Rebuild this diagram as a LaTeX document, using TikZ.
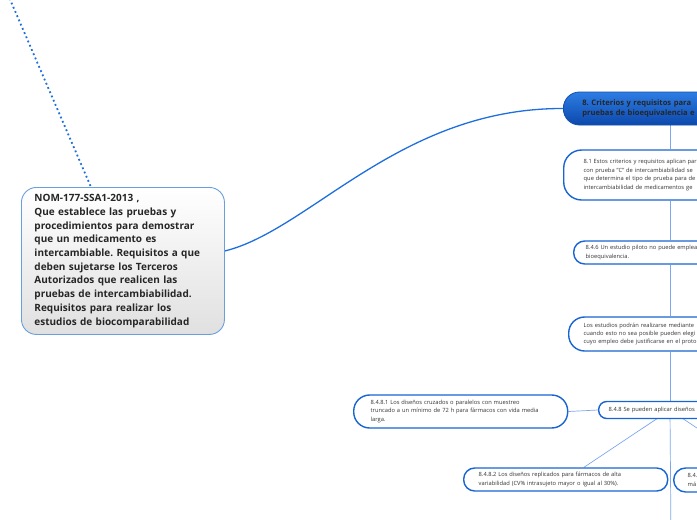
\documentclass[tikz,border=0pt]{standalone}
\usepackage{fontspec}
\setmainfont{Open Sans}
\usetikzlibrary{backgrounds}
\definecolor{azul}{RGB}{24,100,210}
\definecolor{azulclaro}{RGB}{125,168,235}
\definecolor{azullinea}{RGB}{30,110,222}
\definecolor{bordegris}{RGB}{105,160,220}
\definecolor{grisfondo}{RGB}{224,224,224}
\definecolor{raizarriba}{RGB}{45,125,228}
\definecolor{raizabajo}{RGB}{12,72,172}
\frenchspacing
\begin{document}
\begin{tikzpicture}[x=1pt,y=-1pt,
    principal/.style={draw=bordegris,line width=0.9pt,rounded corners=15pt,
      top color=white,bottom color=grisfondo,anchor=north west,
      minimum width=203pt,minimum height=147pt,inner xsep=13pt,text width=177pt,
      align=left,font=\fontsize{10}{13.7}\selectfont\bfseries,text=black!85},
    raiz/.style={draw=azul!80!black,line width=0.8pt,rounded corners=16pt,
      top color=raizarriba,bottom color=raizabajo,anchor=west,
      minimum height=33pt,inner xsep=19pt,text width=200pt,align=left,
      font=\fontsize{7.6}{10}\selectfont\bfseries,text=black!85},
    caja/.style={draw=azul,line width=1.4pt,fill=white,anchor=west,
      inner xsep=15pt,align=left,font=\fontsize{5.75}{8.4}\selectfont,text=black!80},
    rama/.style={draw=azulclaro,line width=0.7pt}]
    \useasboundingbox (0,0) rectangle (697,520);
    \clip (0,0) rectangle (697,520);
    % Tema central
    \node[principal] (nom) at (21,187) {NOM-177-SSA1-2013 ,\\
      Que establece las pruebas y\\
      procedimientos para demostrar\\
      que un medicamento es\\
      intercambiable. Requisitos a que\\
      deben sujetarse los Terceros\\
      Autorizados que realicen las\\
      pruebas de intercambiabilidad.\\
      Requisitos para realizar los\\
      estudios de biocomparabilidad};
    % Rama principal y sus subtemas
    \node[raiz] (criterios) at (563,108.5) {8. Criterios y requisitos para\\
      pruebas de bioequivalencia e};
    \node[caja,rounded corners=18pt,minimum height=50pt,text width=220pt,inner xsep=20pt] (c81) at (563,175)
      {8.1 Estos criterios y requisitos aplican par\\
       con prueba "C" de intercambiabilidad se\\
       que determina el tipo de prueba para de\\
       intercambiabilidad de medicamentos ge};
    \node[caja,rounded corners=11pt,minimum height=23pt,text width=200pt,inner xsep=12pt] (c846) at (573,252.5)
      {8.4.6 Un estudio piloto no puede emplear\\
       bioequivalencia.};
    \node[caja,rounded corners=16pt,minimum height=34pt,text width=200pt] (cestudios) at (568,334)
      {Los estudios podr\'an realizarse mediante\\
       cuando esto no sea posible pueden elegi\\
       cuyo empleo debe justificarse en el proto};
    \node[caja,rounded corners=8pt,minimum height=17pt,text width=200pt,inner xsep=10pt] (c848) at (598,410)
      {8.4.8 Se pueden aplicar dise\~nos};
    \node[caja,rounded corners=16pt,minimum height=33pt,text width=180pt,inner xsep=17pt] (c8481) at (353,411.5)
      {8.4.8.1 Los dise\~nos cruzados o paralelos con muestreo\\
       truncado a un m\'inimo de 72 h para f\'armacos con vida media\\
       larga.};
    \node[caja,rounded corners=11pt,minimum height=23pt,text width=174pt] (c8482) at (463,479.5)
      {8.4.8.2 Los dise\~nos replicados para f\'armacos de alta\\
       variabilidad (CV\% intrasujeto mayor o igual al 30\%).};
    \node[caja,rounded corners=12pt,minimum height=24pt,text width=174pt,inner xsep=14pt] (c8483) at (673,480)
      {8.4.\\m\'a};
    % Puntos auxiliares
    \coordinate (eje) at (670,0);
    \coordinate (arriba) at (6,-10);
    \coordinate (abajo) at (671,540);
    \begin{pgfonlayer}{background}
      \draw[azullinea,line width=1.8pt,dash pattern=on 1.8pt off 2.8pt] (arriba) -- ([xshift=-32pt]nom.north);
      \draw[azullinea,line width=1.3pt] ([yshift=10pt]nom.east) .. controls (310,230) and (400,108) .. (criterios.west);
      \draw[rama] (criterios.south -| eje) -- (c81.north -| eje);
      \draw[rama] (c81.south -| eje) -- (c846.north -| eje);
      \draw[rama] (c846.south -| eje) -- (cestudios.north -| eje);
      \draw[rama] (cestudios.south -| eje) -- (c848.north -| eje);
      \draw[rama] (c848.west) -- (c8481.east);
      \draw[rama] (eje |- c848) -- (c8482);
      \draw[rama] (eje |- c848) -- (c8483);
      \draw[rama] (eje |- c848) -- (abajo);
    \end{pgfonlayer}
\end{tikzpicture}
\end{document}
